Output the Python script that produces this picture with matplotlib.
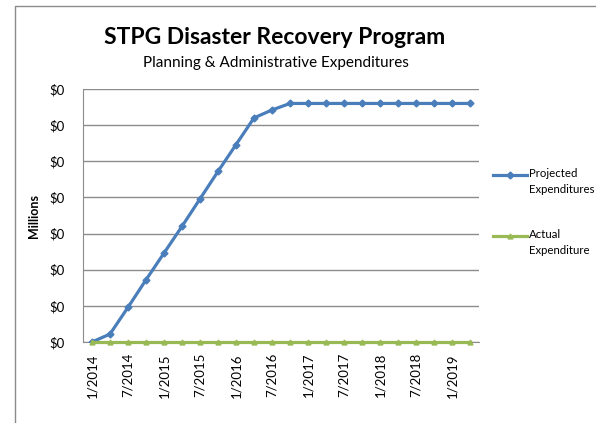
import numpy as np
import matplotlib
matplotlib.use("Agg")
import matplotlib.pyplot as plt
from matplotlib.lines import Line2D
from matplotlib.ticker import FuncFormatter

plt.rcParams['font.family'] = ['Lato', 'DejaVu Sans']

# quarterly dates, 1/2014 .. 4/2019
quarters = ['%d/%d' % (m, y) for y in range(2014, 2020) for m in (1, 4, 7, 10)][:22]

# values in millions
projected = [0.000, 0.011, 0.048, 0.086, 0.123, 0.160, 0.198, 0.236, 0.273, 0.310, 0.321,
             0.330, 0.330, 0.330, 0.330, 0.330, 0.330, 0.330, 0.330, 0.330, 0.330, 0.330]
actual = [0.0] * 22

series_names = ['Projected\nExpenditures', 'Actual\nExpenditure']

blue = '#4A7EBB'
green = '#98B954'

fig = plt.figure(figsize=(5.96, 4.23), dpi=100)
ax = fig.add_axes([83 / 596, 1 - 342 / 423, 396 / 596, 253 / 423])

x = np.arange(len(quarters))
ax.plot(x, projected, color=blue, lw=2.3, marker='D', ms=3.5, zorder=3)
ax.plot(x, actual, color=green, lw=2.3, marker='^', ms=3.5, zorder=4, clip_on=False)

ax.set_xlim(-0.5, len(quarters) - 0.5)
ax.set_ylim(0, 0.35)
ax.set_yticks(np.arange(0, 0.351, 0.05))
ax.yaxis.set_major_formatter(FuncFormatter(lambda v, p: '$%.0f' % v))
ax.grid(axis='y', color='#8c8c8c', lw=1)
ax.set_axisbelow(True)

ax.set_xticks(x[::2])
ax.set_xticklabels(quarters[::2], rotation=90, fontsize=9.5)
ax.tick_params(axis='x', length=0, pad=8)
ax.tick_params(axis='y', length=0, pad=13, labelsize=9.5)

for s in ['top', 'right']:
    ax.spines[s].set_visible(False)
ax.spines['left'].set_color('#8c8c8c')
ax.spines['bottom'].set_color('#8c8c8c')

ax.set_ylabel('Millions', fontsize=9, fontweight='bold', labelpad=7)

fig.text(275 / 596, 1 - 38 / 423, 'STPG Disaster Recovery Program', fontsize=16.5, fontweight='bold',
         ha='center', va='center')
fig.text(276 / 596, 1 - 63 / 423, 'Planning & Administrative Expenditures', fontsize=11,
         ha='center', va='center')

# legend on the right, key line next to the first text line
for name, col, mk, ly in [(series_names[0], blue, 'D', 175), (series_names[1], green, '^', 236)]:
    fig.add_artist(Line2D([493 / 596, 527 / 596], [1 - ly / 423] * 2, transform=fig.transFigure,
                          color=col, lw=2.3))
    fig.add_artist(Line2D([510 / 596], [1 - ly / 423], transform=fig.transFigure,
                          color=col, marker=mk, ms=3.5))
    fig.text(529 / 596, 1 - (ly - 7) / 423, name, fontsize=8.2, ha='left', va='top', linespacing=1.5)

# outer chart border
fig.add_artist(Line2D([15 / 596, 15 / 596, 1], [0, 1 - 6 / 423, 1 - 6 / 423],
                      transform=fig.transFigure, color='#8c8c8c', lw=1))

fig.savefig('out.png', dpi=100)
